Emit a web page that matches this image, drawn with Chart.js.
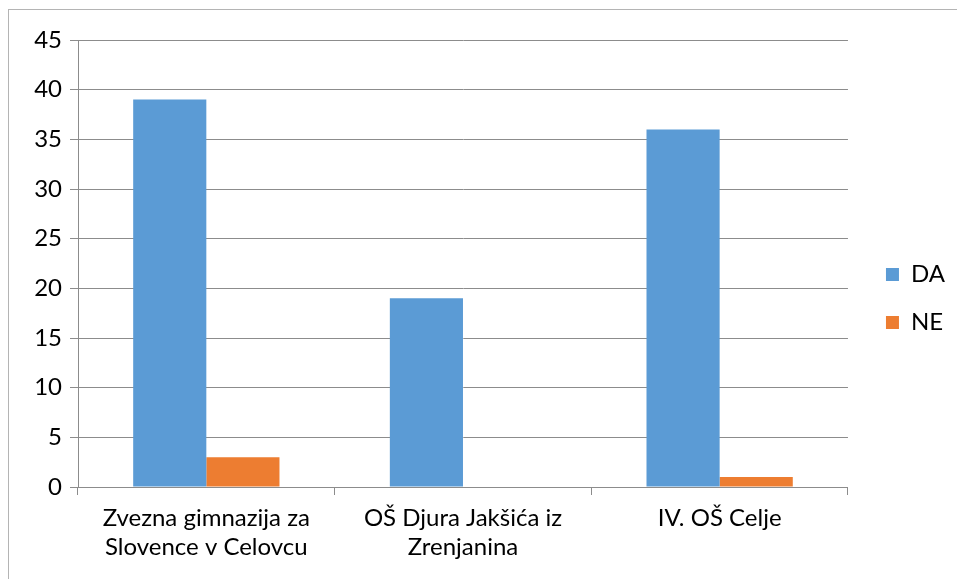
<!DOCTYPE html>
<html>
<head>
<meta charset="utf-8">
<script src="https://cdn.jsdelivr.net/npm/chart.js@4"></script>
<style>
  html, body { margin: 0; padding: 0; background: #fff; overflow: hidden; }
  #wrap { position: relative; width: 957px; height: 579px; }
  #frame { position: absolute; left: 8px; top: 9px; width: 1000px; height: 1000px; border: 1px solid #b4b4b4; box-sizing: border-box; }
  canvas { position: absolute; left: 0; top: 0; }
</style>
</head>
<body>
<div id="wrap">
  <div id="frame"></div>
  <canvas id="chart" width="957" height="579"></canvas>
</div>
<script>
const categories = [
  ["Zvezna gimnazija za", "Slovence v Celovcu"],
  ["OŠ Djura Jakšića iz", "Zrenjanina"],
  "IV. OŠ Celje",
];
const daValues = [39, 19, 36];
const neValues = [3, 0, 1];

const FONT = "Lato, 'Open Sans', sans-serif";
const GRID = "#8c8c8c";

// nudge the legend to where Excel put it
const legendShift = {
  id: "legendShift",
  afterLayout(chart) {
    const lg = chart.legend;
    lg.left += 14;
    lg.right += 14;
    lg.top -= 11;
    lg.bottom -= 11;
  },
};

const ctx = document.getElementById("chart");

const chart = new Chart(ctx, {
  type: "bar",
  data: {
    labels: categories,
    datasets: [
      { label: "DA", data: daValues, backgroundColor: "#5B9BD5" },
      { label: "NE", data: neValues, backgroundColor: "#ED7D31" },
    ],
  },
  plugins: [legendShift],
  options: {
    responsive: false,
    animation: false,
    layout: { padding: { left: 10, top: 40, right: 16, bottom: 0 } },
    datasets: {
      bar: { barPercentage: 1, categoryPercentage: 0.57 },
    },
    plugins: {
      tooltip: { enabled: false },
      legend: {
        position: "right",
        labels: {
          color: "#000",
          font: { family: FONT, size: 24 },
          boxWidth: 13,
          boxHeight: 13,
          padding: 24,
        },
      },
    },
    scales: {
      x: {
        grid: {
          offset: true,
          drawOnChartArea: false,
          color: GRID,
          tickLength: 8,
        },
        border: { color: GRID },
        ticks: {
          color: "#000",
          font: { family: FONT, size: 24 },
          maxRotation: 0,
          padding: 9,
          lineHeight: 1.35,
        },
        afterFit: (scale) => { scale.height = 92; },
      },
      y: {
        min: 0,
        max: 45,
        ticks: {
          stepSize: 5,
          color: "#000",
          font: { family: FONT, size: 24 },
          padding: 8,
        },
        grid: { color: GRID, tickLength: 8 },
        border: { color: GRID },
        afterFit: (scale) => { scale.width = 68; },
      },
    },
  },
});
</script>
</body>
</html>
